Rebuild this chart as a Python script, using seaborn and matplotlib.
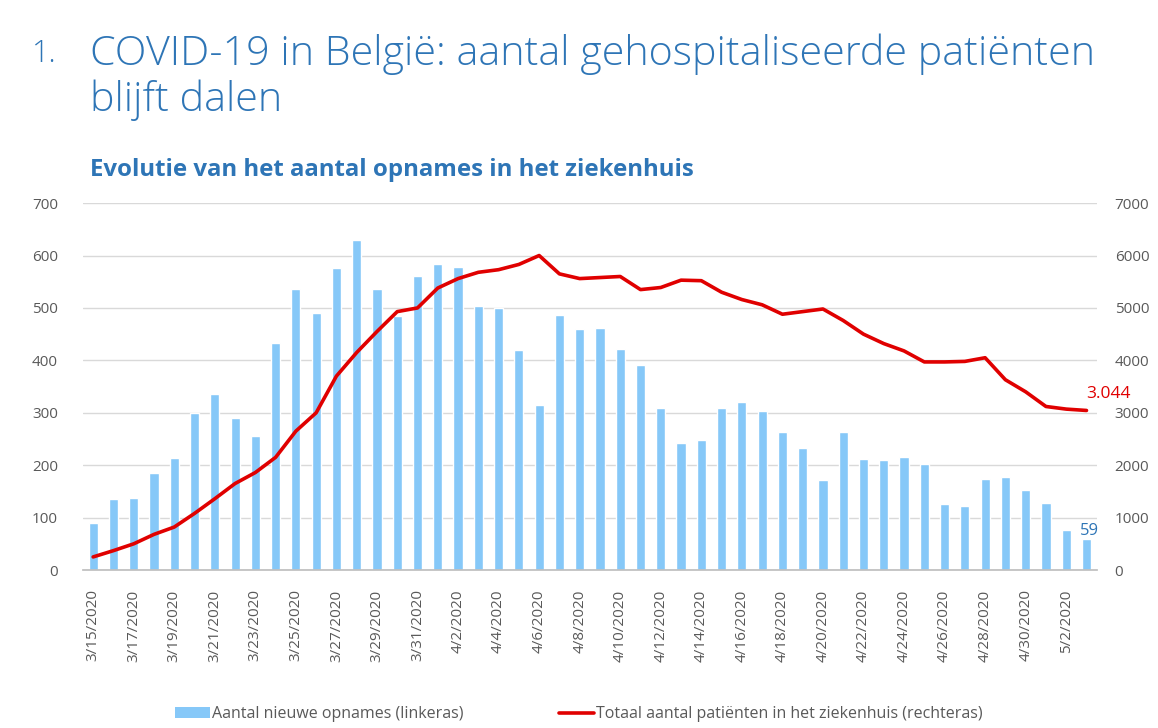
import matplotlib
matplotlib.use('Agg')
import matplotlib.pyplot as plt
import seaborn as sns
import pandas as pd
from matplotlib.patches import Patch
from matplotlib.lines import Line2D

# data
dates = pd.date_range("2020-03-15", "2020-05-03", freq="D")
labels = [f"{d.month}/{d.day}/{d.year}" for d in dates]
nieuwe_opnames = [90, 135, 137, 186, 213, 299, 335, 290, 256, 434,
                  536, 490, 576, 629, 536, 484, 560, 584, 578, 504,
                  500, 420, 314, 487, 459, 462, 422, 392, 310, 242,
                  249, 310, 320, 303, 264, 232, 172, 263, 211, 210,
                  216, 203, 126, 123, 174, 178, 152, 128, 76, 59]
totaal_patienten = [250, 370, 500, 680, 820, 1080, 1360, 1650, 1860, 2150,
                    2650, 3000, 3700, 4150, 4550, 4930, 5000, 5380, 5560, 5680,
                    5730, 5830, 6000, 5650, 5560, 5580, 5600, 5350, 5390, 5530,
                    5520, 5300, 5160, 5060, 4880, 4930, 4980, 4760, 4500, 4320,
                    4180, 3970, 3970, 3980, 4050, 3630, 3400, 3120, 3070, 3044]

df = pd.DataFrame({"datum": labels, "opnames": nieuwe_opnames,
                   "totaal": totaal_patienten, "pos": range(len(labels))})

sns.set_theme(style="white")
plt.rcParams['font.family'] = ['Open Sans', 'DejaVu Sans']

blauw = "#86C8F8"
rood = "#E00000"
titel_kleur = "#2E75B6"
grijs = "#595959"

fig = plt.figure(figsize=(11.58, 7.28), dpi=100)
ax = fig.add_axes([0.0717, 0.217, 0.8753, 0.504])

sns.barplot(data=df, x="datum", y="opnames", color=blauw, width=0.45,
            saturation=1, ax=ax)
ax.set_ylim(0, 700)
ax.set_yticks(range(0, 701, 100))
ax.set_xlim(-0.5, 49.5)
ax.set_xticks(range(0, len(labels), 2))
ax.set_xticklabels(labels[::2], rotation=90, fontsize=11, color=grijs)
ax.tick_params(axis='y', labelsize=11, colors=grijs, length=0, pad=18)
ax.tick_params(axis='x', length=0, pad=14)
ax.set_xlabel("")
ax.set_ylabel("")
ax.grid(axis='y', color="#D9D9D9", linewidth=1)
ax.set_axisbelow(True)
for s in ["left", "right", "top"]:
    ax.spines[s].set_visible(False)
ax.spines["bottom"].set_color("#BFBFBF")

ax2 = ax.twinx()
sns.lineplot(data=df, x="pos", y="totaal", color=rood, linewidth=2.6, ax=ax2)
ax2.set_ylim(0, 7000)
ax2.set_yticks(range(0, 7001, 1000))
ax2.tick_params(axis='y', labelsize=11, colors=grijs, length=0, pad=13)
ax2.set_xlim(-0.5, 49.5)
ax2.set_ylabel("")
ax2.set_xlabel("")
for s in ["left", "right", "top", "bottom"]:
    ax2.spines[s].set_visible(False)

# waarde-labels
ax2.annotate("3.044", (len(labels) - 1, totaal_patienten[-1]), xytext=(16, 9),
             textcoords="offset points", ha="center", color=rood, fontsize=12.5)
ax.annotate(str(nieuwe_opnames[-1]), (len(labels) - 1, nieuwe_opnames[-1]),
            xytext=(2, 3), textcoords="offset points", ha="center",
            color=titel_kleur, fontsize=12)

# titels
fig.text(0.028, 0.926, "1.", fontsize=22, color=titel_kleur, va="center",
         fontweight="light")
fig.text(0.078, 0.926, "COVID-19 in België: aantal gehospitaliseerde patiënten",
         fontsize=29.7, color=titel_kleur, va="center", fontweight="light")
fig.text(0.078, 0.862, "blijft dalen", fontsize=29.7, color=titel_kleur,
         va="center", fontweight="light")
fig.text(0.078, 0.766, "Evolutie van het aantal opnames in het ziekenhuis",
         fontsize=17.3, fontweight="bold", color=titel_kleur, va="center")

# legenda
handles = [Patch(facecolor=blauw, edgecolor="none"),
           Line2D([0], [0], color=rood, linewidth=2.6)]
fig.legend(handles, ["Aantal nieuwe opnames (linkeras)",
                     "Totaal aantal patiënten in het ziekenhuis (rechteras)"],
           loc="lower center", bbox_to_anchor=(0.5, -0.012), ncol=2,
           frameon=False, fontsize=11.5, labelcolor=grijs, handlelength=2.2,
           handletextpad=0.1, columnspacing=6)

fig.savefig("out.png", dpi=100)
